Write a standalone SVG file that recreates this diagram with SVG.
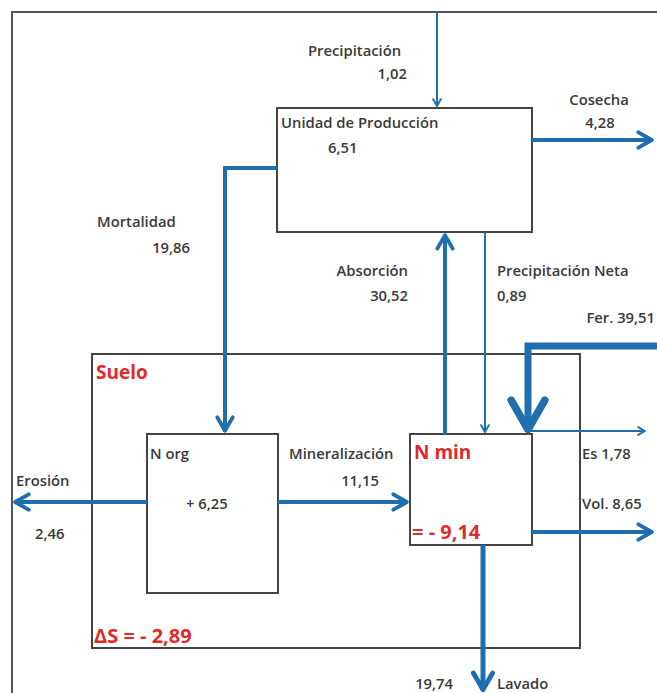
<svg xmlns="http://www.w3.org/2000/svg" width="657" height="693" viewBox="0 0 657 693">
<style>
.box{fill:none;stroke:#444;stroke-width:2}
.frame{fill:none;stroke:#555;stroke-width:2}
.t{font-family:"Open Sans","Liberation Sans",sans-serif;font-size:14.8px;font-weight:600;fill:#3a3a3a}
.r{font-family:"Open Sans","Liberation Sans",sans-serif;font-weight:700;fill:#e02b2b}
.a{fill:none;stroke:#1f6fae;marker-end:url(#ah)}
</style>
<defs>
<marker id="ah" viewBox="0 0 10 10" refX="8.6" refY="5" markerWidth="4.8" markerHeight="4.8" orient="auto" markerUnits="strokeWidth">
<path d="M1.5,1 L8.5,5 L1.5,9" fill="none" stroke="#1f6fae" stroke-width="2" stroke-linecap="round" stroke-linejoin="round"/>
</marker>
<marker id="ahb" viewBox="0 0 10 10" refX="8.6" refY="5" markerWidth="6" markerHeight="6" orient="auto" markerUnits="strokeWidth">
<path d="M1.5,1 L8.5,5 L1.5,9" fill="none" stroke="#1f6fae" stroke-width="1.8" stroke-linecap="round" stroke-linejoin="round"/>
</marker>
</defs>
<rect width="657" height="693" fill="#fff"/>
<path class="frame" d="M12,693 V12 H657"/>
<g id="suelo">
<rect class="box" x="92" y="354" width="488" height="294"/>
<text class="r" x="96" y="379" font-size="19">Suelo</text>
<text class="r" x="94" y="643" font-size="20">ΔS = - 2,89</text>
</g>
<g id="unidad">
<rect class="box" x="277" y="108" width="255" height="124"/>
<text class="t" x="281" y="128">Unidad de Producción</text>
<text class="t" x="328" y="153">6,51</text>
</g>
<g id="norg">
<rect class="box" x="147" y="434" width="131" height="159"/>
<text class="t" x="150" y="459">N org</text>
<text class="t" x="186" y="509">+ 6,25</text>
</g>
<g id="nmin">
<rect class="box" x="410" y="434" width="122" height="111"/>
<text class="r" x="414" y="459" font-size="19">N min</text>
<text class="r" x="412" y="539" font-size="20">= - 9,14</text>
</g>
<g id="connectors">
<path class="a" stroke-width="2" d="M437,12 V106"/>
<path class="a" stroke-width="4" d="M532,140 H652"/>
<path class="a" stroke-width="4" d="M277,168 H225 V431"/>
<path class="a" stroke-width="4" d="M445,434 V235"/>
<path class="a" stroke-width="2" d="M485,232 V432"/>
<path class="a" stroke-width="7" d="M657,346 H528 V430" style="marker-end:url(#ahb)"/>
<path class="a" stroke-width="2" d="M528,431 H645"/>
<path class="a" stroke-width="4" d="M147,502 H15"/>
<path class="a" stroke-width="4" d="M278,502 H407"/>
<path class="a" stroke-width="4" d="M532,532 H652"/>
<path class="a" stroke-width="5" d="M483,545 V690"/>
</g>
<g id="labels">
<text class="t" x="308" y="56">Precipitación</text>
<text class="t" x="407" y="79" text-anchor="end">1,02</text>
<text class="t" x="599" y="105" text-anchor="middle">Cosecha</text>
<text class="t" x="600" y="128" text-anchor="middle">4,28</text>
<text class="t" x="97" y="227">Mortalidad</text>
<text class="t" x="190" y="253" text-anchor="end">19,86</text>
<text class="t" x="408" y="276" text-anchor="end">Absorción</text>
<text class="t" x="408" y="301" text-anchor="end">30,52</text>
<text class="t" x="497" y="276">Precipitación Neta</text>
<text class="t" x="497" y="301">0,89</text>
<text class="t" x="655" y="323" text-anchor="end">Fer. 39,51</text>
<text class="t" x="16" y="486">Erosión</text>
<text class="t" x="35" y="539">2,46</text>
<text class="t" x="289" y="459">Mineralización</text>
<text class="t" x="379" y="486" text-anchor="end">11,15</text>
<text class="t" x="582" y="459">Es 1,78</text>
<text class="t" x="582" y="509">Vol. 8,65</text>
<text class="t" x="453" y="689" text-anchor="end">19,74</text>
<text class="t" x="497" y="689">Lavado</text>
</g>
</svg>
